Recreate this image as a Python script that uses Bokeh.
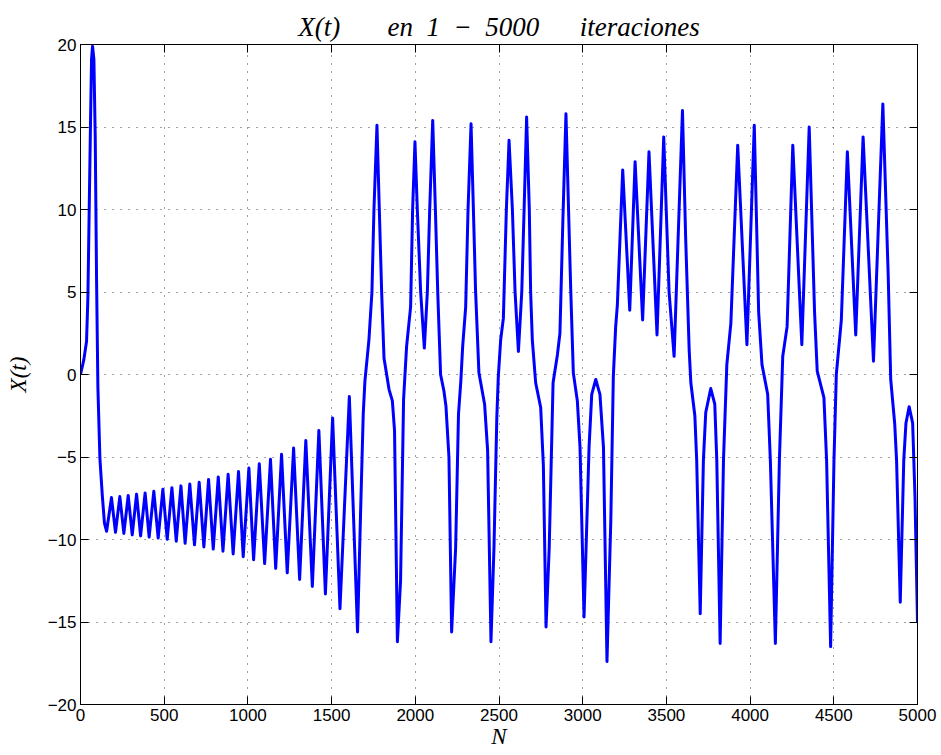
from bokeh.plotting import figure
from bokeh.models import Range1d, LinearAxis, FixedTicker
from bokeh.embed import file_html
from bokeh.resources import INLINE

# ---- data ----
# initial spike
n_init = [0, 20, 36, 44, 52, 60, 66, 72, 80, 88, 96, 104, 116, 130, 143, 156]
x_init = [0.0, 0.9, 2.0, 4.6, 10.0, 15.4, 19.1, 19.9, 19.1, 14.4, 5.7, -0.8, -5.1, -7.3, -9.0, -9.5]

# slowly growing oscillation: peaks and troughs
n_osc_peaks = [185, 235, 285, 335, 386, 438, 492, 546, 600, 653, 709, 765, 823, 882,
               944, 1006, 1068, 1135, 1201, 1273, 1346, 1424, 1506, 1606]
x_osc_peaks = [-7.46, -7.40, -7.33, -7.25, -7.18, -7.07, -6.96, -6.86, -6.75, -6.64, -6.53,
               -6.36, -6.21, -6.05, -5.88, -5.67, -5.41, -5.14, -4.84, -4.46, -4.0, -3.39,
               -2.63, -1.33]
n_osc_troughs = [209, 259, 309, 359, 410, 464, 518, 572, 625, 681, 737, 793, 851, 912,
                 972, 1034, 1100, 1166, 1235, 1309, 1385, 1463, 1550, 1655]
x_osc_troughs = [-9.56, -9.63, -9.72, -9.78, -9.85, -9.91, -9.99, -10.1, -10.23, -10.32,
                 -10.45, -10.58, -10.71, -10.88, -11.04, -11.23, -11.46, -11.75, -12.02,
                 -12.42, -12.85, -13.3, -14.2, -15.6]

# chaotic regime
n_chaos = [1673, 1689, 1699, 1723, 1741, 1753, 1771, 1785, 1799, 1813, 1843, 1863, 1876, 1893,
           1912, 1930, 1948, 1972, 1984, 1998, 2012, 2032, 2054, 2072, 2086, 2104, 2120, 2134,
           2151, 2171, 2183, 2201, 2217,
           2241, 2258, 2272, 2283, 2301, 2315, 2333, 2347, 2360, 2380, 2414, 2432, 2452,
           2470, 2487, 2496, 2510, 2526, 2544, 2560, 2580, 2596, 2616, 2636, 2650, 2665, 2681,
           2689, 2699, 2719, 2749, 2765, 2781,
           2800, 2823, 2849, 2864, 2882, 2900, 2928, 2944, 2968, 2984, 3008,
           3038, 3054, 3078, 3103, 3124, 3145,
           3168, 3183, 3197, 3207, 3239, 3281, 3313, 3358, 3396, 3444, 3484, 3516, 3546, 3596,
           3615, 3636, 3646, 3670, 3681, 3702,
           3721, 3735, 3765, 3789, 3801, 3821,
           3841, 3861, 3885, 3926, 3981, 4025, 4051, 4071, 4105, 4121, 4151,
           4175, 4195, 4221, 4255, 4309, 4353, 4385, 4401, 4441, 4457, 4481,
           4501, 4515, 4545, 4581, 4631, 4675, 4737, 4793, 4825, 4840, 4864, 4875, 4897,
           4918, 4931, 4950, 4971, 4985, 5000]
x_chaos = [-8.4, -2.4, -0.4, 2.1, 5.0, 10.0, 15.1, 10.0, 5.0, 1.0, -0.9, -1.6, -3.4, -16.2,
           -12.5, -1.5, 1.7, 4.1, 10.0, 14.1, 10.0, 5.0, 1.6, 5.0, 10.0, 15.4, 10.0, 5.0,
           0.0, -1.0, -1.9, -5.0, -15.6,
           -10.5, -2.4, -0.4, 1.7, 4.1, 10.0, 15.2, 10.0, 5.1, 0.1, -1.8, -4.6, -16.2,
           -10.5, -2.6, -0.1, 2.1, 3.4, 10.0, 14.2, 10.0, 5.0, 1.4, 5.0, 10.0, 15.6, 10.0,
           5.0, 2.1, -0.5, -2.0, -5.5, -15.3,
           -10.5, -0.5, 1.2, 2.5, 9.5, 15.8, 5.3, 0.1, -1.6, -4.4, -14.7,
           -4.4, -1.2, -0.3, -1.2, -4.4, -17.4,
           -8.8, -0.1, 2.9, 4.2, 12.4, 3.9, 12.9, 3.3, 13.5, 2.4, 14.4, 5.0, 1.1, 16.0,
           8.3, 1.5, -0.5, -2.5, -5.2, -14.5,
           -5.2, -2.3, -0.85, -1.8, -5.2, -16.3,
           -5.2, 0.6, 3.1, 13.9, 1.8, 15.1, 3.8, 0.6, -1.2, -5.2, -16.3,
           -5.2, 1.1, 2.9, 13.9, 1.8, 15.0, 3.8, 0.2, -1.4, -5.2, -16.5,
           -5.2, 0.0, 3.3, 13.5, 2.4, 14.4, 0.8, 16.4, 6.0, -0.3, -3.0, -5.2, -13.8,
           -5.2, -2.95, -1.95, -2.95, -7.4, -15.0]

x_ticks = [0, 500, 1000, 1500, 2000, 2500, 3000, 3500, 4000, 4500, 5000]
y_ticks = [-20, -15, -10, -5, 0, 5, 10, 15, 20]

NB = "\u00a0"
title_text = ("X(t)" + NB * 7 + "en" + NB * 2 + "1" + NB * 2 + "\u2212" + NB * 2 + "5000"
              + NB * 6 + "iteraciones")
x_label = "N"
y_label = "X(t)"

# ---- assemble the series ----
osc = sorted(zip(n_osc_peaks + n_osc_troughs, x_osc_peaks + x_osc_troughs))
n_all = n_init + [a for a, _ in osc] + n_chaos
x_all = x_init + [b for _, b in osc] + x_chaos

p = figure(width=941, height=755, output_backend="svg", toolbar_location=None,
           x_range=Range1d(0, 5000), y_range=Range1d(-20, 20),
           min_border_left=80, min_border_right=24, min_border_top=44, min_border_bottom=51,
           background_fill_color="white", border_fill_color="white")

p.title.text = title_text
p.title.align = "center"
p.title.text_font = "Liberation Serif"
p.title.text_font_style = "italic"
p.title.text_font_size = "27px"
p.title.text_color = "black"
p.title.standoff = 5

p.line(n_all, x_all, line_color="#0000ff", line_width=3, line_join="round")

p.outline_line_color = "black"
p.outline_line_width = 1

tick_font = "Liberation Sans"
for ax, ticks in ((p.xaxis[0], x_ticks), (p.yaxis[0], y_ticks)):
    ax.ticker = FixedTicker(ticks=ticks)
    ax.major_tick_in = 8
    ax.major_tick_out = 0
    ax.minor_tick_line_color = None
    ax.axis_line_color = "black"
    ax.major_tick_line_color = "black"
    ax.major_label_text_font = tick_font
    ax.major_label_text_font_size = "17px"
    ax.major_label_text_color = "black"
    ax.major_label_standoff = 4
    ax.axis_label_text_font = "Liberation Serif"
    ax.axis_label_text_font_style = "italic"
    ax.axis_label_text_font_size = "23px"
    ax.axis_label_text_color = "black"

p.xaxis[0].axis_label = x_label
p.xaxis[0].axis_label_standoff = 0
p.yaxis[0].axis_label = y_label
p.yaxis[0].axis_label_standoff = 14

# box axes (top and right) with inward ticks, no labels
top = LinearAxis(ticker=FixedTicker(ticks=x_ticks), major_tick_in=8, major_tick_out=0,
                 minor_tick_line_color=None, major_label_text_font_size="1px",
                 major_label_text_color=None, major_label_standoff=0,
                 axis_line_color="black")
right = LinearAxis(ticker=FixedTicker(ticks=y_ticks), major_tick_in=8, major_tick_out=0,
                   minor_tick_line_color=None, major_label_text_font_size="1px",
                   major_label_text_color=None, major_label_standoff=0,
                   axis_line_color="black")
p.add_layout(top, "above")
p.add_layout(right, "right")

for g in (p.xgrid[0], p.ygrid[0]):
    g.grid_line_color = "black"
    g.grid_line_alpha = 0.75
    g.grid_line_dash = "1 7"
    g.grid_line_width = 1
p.xgrid[0].ticker = FixedTicker(ticks=x_ticks)
p.ygrid[0].ticker = FixedTicker(ticks=y_ticks)

open("out.html", "w").write(file_html(p, INLINE))
